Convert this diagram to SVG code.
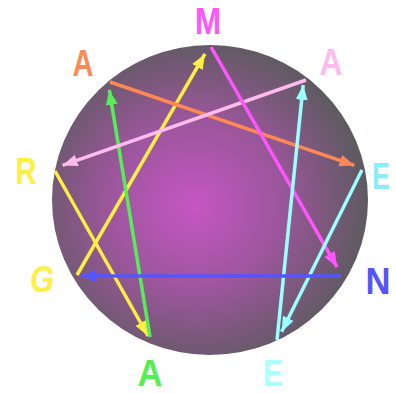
<svg xmlns="http://www.w3.org/2000/svg" width="396" height="393" viewBox="0 0 396 393">
<defs>
<radialGradient id="ball" cx="0.45" cy="0.52" r="0.55">
<stop offset="0" stop-color="#c656c4"/>
<stop offset="0.5" stop-color="#9c569c"/>
<stop offset="1" stop-color="#5e5a60"/>
</radialGradient>
<marker id="mY" markerUnits="userSpaceOnUse" markerWidth="15" markerHeight="12" refX="15" refY="6" orient="auto"><path d="M0,0 L15,6 L0,12 Z" fill="#ffee44"/></marker>
<marker id="mG" markerUnits="userSpaceOnUse" markerWidth="15" markerHeight="12" refX="15" refY="6" orient="auto"><path d="M0,0 L15,6 L0,12 Z" fill="#55ee55"/></marker>
<marker id="mO" markerUnits="userSpaceOnUse" markerWidth="15" markerHeight="12" refX="15" refY="6" orient="auto"><path d="M0,0 L15,6 L0,12 Z" fill="#ff8855"/></marker>
<marker id="mP" markerUnits="userSpaceOnUse" markerWidth="15" markerHeight="12" refX="15" refY="6" orient="auto"><path d="M0,0 L15,6 L0,12 Z" fill="#ffbbee"/></marker>
<marker id="mM" markerUnits="userSpaceOnUse" markerWidth="15" markerHeight="12" refX="15" refY="6" orient="auto"><path d="M0,0 L15,6 L0,12 Z" fill="#ff55ff"/></marker>
<marker id="mC" markerUnits="userSpaceOnUse" markerWidth="15" markerHeight="12" refX="15" refY="6" orient="auto"><path d="M0,0 L15,6 L0,12 Z" fill="#99ffff"/></marker>
<marker id="mB" markerUnits="userSpaceOnUse" markerWidth="15" markerHeight="12" refX="15" refY="6" orient="auto"><path d="M0,0 L15,6 L0,12 Z" fill="#5555ff"/></marker>
</defs>
<style>
text { font-family: "Liberation Sans", Arial, sans-serif; font-weight: bold; font-size: 37px; text-anchor: middle; }
line { fill: none; stroke-width: 3.5; }
</style>
<g id="ball-bg"><ellipse cx="210" cy="200" rx="158" ry="155" fill="url(#ball)"/></g>
<g id="connectors">
<line x1="55" y1="171" x2="148.1" y2="336" stroke="#ffee44" marker-end="url(#mY)"/>
<line x1="77" y1="275" x2="205" y2="53.9" stroke="#ffee44" marker-end="url(#mY)"/>
<line x1="150" y1="337" x2="109.3" y2="89.9" stroke="#55ee55" marker-end="url(#mG)"/>
<line x1="110" y1="82" x2="354.4" y2="165.4" stroke="#ff8855" stroke-width="4" marker-end="url(#mO)"/>
<line x1="306" y1="80" x2="62.6" y2="165.4" stroke="#ffbbee" stroke-width="4" marker-end="url(#mP)"/>
<line x1="211" y1="47" x2="337" y2="267.1" stroke="#ff55ff" marker-end="url(#mM)"/>
<line x1="362" y1="170" x2="281.6" y2="331.8" stroke="#99ffff" marker-end="url(#mC)"/>
<line x1="277" y1="340" x2="303.2" y2="85" stroke="#99ffff" marker-end="url(#mC)"/>
<line x1="341" y1="276" x2="81" y2="276" stroke="#5555ff" stroke-width="5" marker-end="url(#mB)"/>
</g>
<g id="node-M"><text x="208" y="34" fill="#ff55ff" textLength="26" lengthAdjust="spacingAndGlyphs">M</text></g>
<g id="node-A1"><text x="83" y="76" fill="#ff8855" textLength="21" lengthAdjust="spacingAndGlyphs">A</text></g>
<g id="node-A2"><text x="331" y="75" fill="#ffbbee" textLength="23" lengthAdjust="spacingAndGlyphs">A</text></g>
<g id="node-R"><text x="26" y="184" fill="#ffee44" textLength="21" lengthAdjust="spacingAndGlyphs">R</text></g>
<g id="node-E1"><text x="381" y="189" fill="#88eeff" textLength="18" lengthAdjust="spacingAndGlyphs">E</text></g>
<g id="node-G"><text x="42" y="292" fill="#ffee44" font-style="italic" textLength="24" lengthAdjust="spacingAndGlyphs">G</text></g>
<g id="node-N"><text x="378" y="294" fill="#5555ff" textLength="25" lengthAdjust="spacingAndGlyphs">N</text></g>
<g id="node-A3"><text x="150" y="386" fill="#55ee55" textLength="25" lengthAdjust="spacingAndGlyphs">A</text></g>
<g id="node-E2"><text x="273" y="386" fill="#aaffff" textLength="20" lengthAdjust="spacingAndGlyphs">E</text></g>
</svg>
